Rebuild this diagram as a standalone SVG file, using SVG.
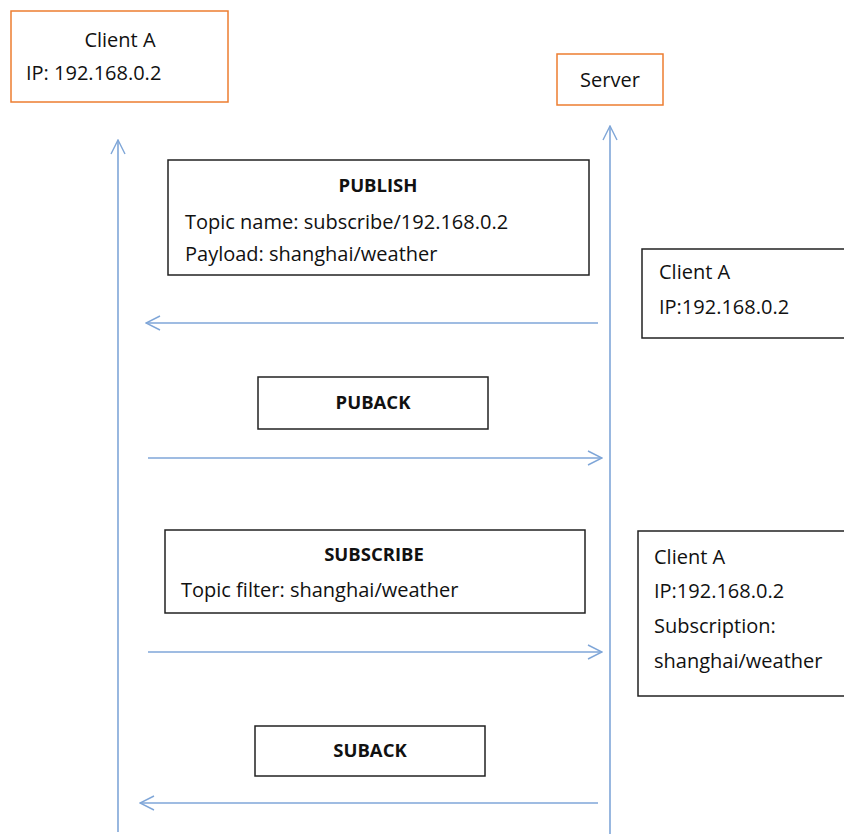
<svg xmlns="http://www.w3.org/2000/svg" width="844" height="836" viewBox="0 0 844 836">
<style>
.t{font-family:"Open Sans","Liberation Sans",Arial,sans-serif;font-size:20px;fill:#111}
.b{font-weight:bold;text-anchor:middle;font-size:18.5px}
.c{text-anchor:middle}
.ob{fill:#fff;stroke:#ED7D31;stroke-width:1.5}
.kb{fill:#fff;stroke:#222;stroke-width:1.5}
.ln{stroke:#7FA6D8;stroke-width:1.6;fill:none}
</style>
<defs>
<marker id="ah" viewBox="0 0 16 16" refX="15" refY="8" markerWidth="16" markerHeight="16" markerUnits="userSpaceOnUse" orient="auto">
<path d="M1,1 L15,8 L1,15" fill="none" stroke="#7FA6D8" stroke-width="1.4"/>
</marker>
</defs>
<rect width="844" height="836" fill="#fff"/>
<g id="connectors">
<line class="ln" x1="118" y1="832" x2="118" y2="140" marker-end="url(#ah)"/>
<line class="ln" x1="610" y1="834" x2="610" y2="126" marker-end="url(#ah)"/>
<line class="ln" x1="598" y1="323" x2="146" y2="323" marker-end="url(#ah)"/>
<line class="ln" x1="148" y1="458" x2="602" y2="458" marker-end="url(#ah)"/>
<line class="ln" x1="148" y1="652" x2="602" y2="652" marker-end="url(#ah)"/>
<line class="ln" x1="598" y1="803" x2="140" y2="803" marker-end="url(#ah)"/>
</g>
<g id="clientA">
<rect class="ob" x="11" y="11" width="217" height="91"/>
<text class="t c" x="120" y="47">Client A</text>
<text class="t" x="26" y="80">IP: 192.168.0.2</text>
</g>
<g id="server">
<rect class="ob" x="557" y="54" width="106" height="51"/>
<text class="t c" x="610" y="87">Server</text>
</g>
<g id="publish">
<rect class="kb" x="168" y="160" width="421" height="115"/>
<text class="t b" x="378" y="192">PUBLISH</text>
<text class="t" x="185" y="229">Topic name: subscribe/192.168.0.2</text>
<text class="t" x="185" y="261">Payload: shanghai/weather</text>
</g>
<g id="serverState1">
<rect class="kb" x="642" y="249" width="210" height="89"/>
<text class="t" x="659" y="279">Client A</text>
<text class="t" x="659" y="314">IP:192.168.0.2</text>
</g>
<g id="puback">
<rect class="kb" x="258" y="377" width="230" height="52"/>
<text class="t b" x="373" y="409">PUBACK</text>
</g>
<g id="subscribe">
<rect class="kb" x="165" y="530" width="420" height="83"/>
<text class="t b" x="374" y="561">SUBSCRIBE</text>
<text class="t" x="181" y="597">Topic filter: shanghai/weather</text>
</g>
<g id="serverState2">
<rect class="kb" x="638" y="531" width="214" height="165"/>
<text class="t" x="654" y="564">Client A</text>
<text class="t" x="654" y="598">IP:192.168.0.2</text>
<text class="t" x="654" y="633">Subscription:</text>
<text class="t" x="654" y="668">shanghai/weather</text>
</g>
<g id="suback">
<rect class="kb" x="255" y="726" width="230" height="50"/>
<text class="t b" x="370" y="757">SUBACK</text>
</g>
</svg>
